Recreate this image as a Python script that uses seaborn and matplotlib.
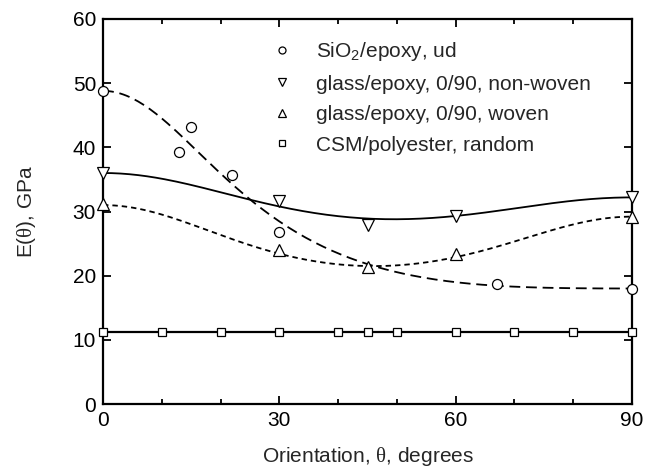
import numpy as np
import pandas as pd
import matplotlib
matplotlib.use("Agg")
import matplotlib.pyplot as plt
import seaborn as sns

sns.set_style("ticks")
plt.rcParams["font.family"] = ["Liberation Sans", "DejaVu Sans"]
plt.rcParams["mathtext.fontset"] = "custom"
plt.rcParams["mathtext.rm"] = "Liberation Serif"
plt.rcParams["mathtext.default"] = "regular"

# Measured moduli, GPa, against fibre orientation (degrees)
sio2_theta = [0, 13, 15, 22, 30, 67, 90]
sio2_E = [48.8, 39.2, 43.1, 35.7, 26.8, 18.7, 18.0]

nonwoven_theta = [0, 30, 45, 60, 90]
nonwoven_E = [36.0, 31.6, 27.9, 29.3, 32.3]

woven_theta = [0, 30, 45, 60, 90]
woven_E = [31.1, 24.0, 21.4, 23.4, 29.2]

csm_theta = [0, 10, 20, 30, 40, 45, 50, 60, 70, 80, 90]
csm_E = [11.2] * 11

# Fitted off-axis parameters: E(0), E(90), E(45), GPa
sio2_fit = (48.8, 18.0, 21.8)
nonwoven_fit = (36.0, 32.2, 28.9)
woven_fit = (31.0, 29.2, 21.5)


def off_axis_modulus(theta_deg, e0, e90, e45):
    """1/E = c^4/E1 + s^4/E2 + k s^2 c^2, k fixed by E(45)."""
    t = np.radians(theta_deg)
    c2, s2 = np.cos(t) ** 2, np.sin(t) ** 2
    k = 4.0 / e45 - 1.0 / e0 - 1.0 / e90
    return 1.0 / (c2 ** 2 / e0 + s2 ** 2 / e90 + k * s2 * c2)


theta = np.linspace(0, 90, 181)

fig = plt.figure(figsize=(6.53, 4.72), dpi=100)
ax = fig.add_axes([103 / 653, 1 - 404 / 472, 529 / 653, 385 / 472])

ink = "black"
lw = 1.3
fs = 15

# model curves
sns.lineplot(x=theta, y=off_axis_modulus(theta, *sio2_fit), ax=ax, color=ink,
             lw=lw, linestyle=(0, (6.0, 3.2)), legend=False)
sns.lineplot(x=theta, y=off_axis_modulus(theta, *nonwoven_fit), ax=ax, color=ink,
             lw=lw, legend=False)
sns.lineplot(x=theta, y=off_axis_modulus(theta, *woven_fit), ax=ax, color=ink,
             lw=lw, linestyle=(0, (3.0, 2.2)), legend=False)
sns.lineplot(x=[csm_theta[0], csm_theta[-1]], y=[csm_E[0], csm_E[-1]], ax=ax,
             color=ink, lw=1.6, legend=False)

# measured points
series = [
    (sio2_theta, sio2_E, "o", 7.2, "SiO$_2$/epoxy, ud"),
    (nonwoven_theta, nonwoven_E, "v", 8.0, "glass/epoxy, 0/90, non-woven"),
    (woven_theta, woven_E, "^", 8.0, "glass/epoxy, 0/90, woven"),
    (csm_theta, csm_E, "s", 6.2, "CSM/polyester, random"),
]
for xs, ys, mk, ms, lab in series:
    df = pd.DataFrame({"theta": xs, "E": ys})
    sns.lineplot(data=df, x="theta", y="E", ax=ax, estimator=None, sort=False,
                 linestyle="none", marker=mk, markersize=ms, markerfacecolor="white",
                 markeredgecolor=ink, markeredgewidth=0.9, color=ink,
                 label=lab, clip_on=False, zorder=5)

ax.set_xlim(0, 90)
ax.set_ylim(0, 60)
ax.set_xticks([0, 30, 60, 90])
ax.set_xticks([10, 20, 40, 50, 70, 80], minor=True)
ax.set_yticks([0, 10, 20, 30, 40, 50, 60])
ax.tick_params(which="both", direction="in", top=True, right=True,
               labelsize=fs, colors=ink, width=1.3, pad=5)
ax.tick_params(which="major", length=6)
ax.tick_params(which="minor", length=3.5)
for sp in ax.spines.values():
    sp.set_linewidth(1.6)
    sp.set_color(ink)

ax.set_xlabel(r"Orientation, $\mathrm{\theta}$, degrees", fontsize=fs, labelpad=11)
ax.set_ylabel(r"E($\mathrm{\theta}$), GPa", fontsize=fs, labelpad=25)

leg = ax.legend(loc="upper left", bbox_to_anchor=(0.318, 0.945), frameon=False,
                fontsize=fs, handlelength=1.0, handletextpad=1.15, markerscale=0.7,
                labelspacing=0.55, borderaxespad=0, borderpad=0)

fig.savefig("out.png", dpi=100)
